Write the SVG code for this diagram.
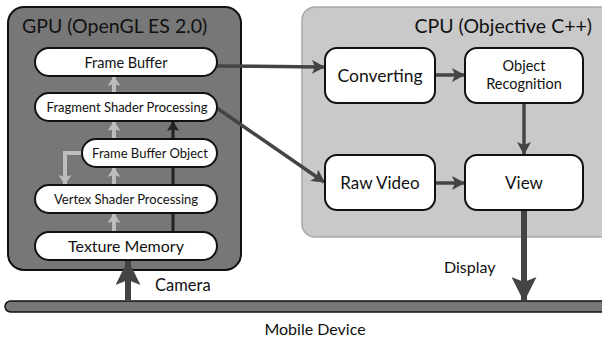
<svg xmlns="http://www.w3.org/2000/svg" width="602" height="340" viewBox="0 0 602 340">
  <defs>
    <style>
      text { font-family: "Lato", "Open Sans", "Liberation Sans", sans-serif; fill: #111; }
      .title { font-size: 19.5px; }
      .gnode rect { fill: #fff; stroke: #111; stroke-width: 2; }
      .cnode rect { fill: #fff; stroke: #111; stroke-width: 2; }
      .gl { font-size: 13px; text-anchor: middle; }
      .cl { font-size: 17px; text-anchor: middle; }
      .lbl { font-size: 16px; }
      .light { stroke: #bdbdbd; stroke-width: 4; fill: none; }
      .dark { stroke: #222; stroke-width: 3; fill: none; }
      .flow { stroke: #444; stroke-width: 3.5; fill: none; }
      .thick { stroke: #444; stroke-width: 6; fill: none; }
    </style>
    <marker id="ahLight" markerUnits="userSpaceOnUse" markerWidth="10" markerHeight="13" refX="9" refY="6.5" orient="auto" viewBox="0 0 10 13">
      <path d="M0,0 L10,6.5 L0,13 L2,6.5 Z" fill="#bdbdbd"/>
    </marker>
    <marker id="ahDark" markerUnits="userSpaceOnUse" markerWidth="10" markerHeight="12" refX="9" refY="6" orient="auto" viewBox="0 0 10 12">
      <path d="M0,0 L10,6 L0,12 L2,6 Z" fill="#222"/>
    </marker>
    <marker id="ahFlow" markerUnits="userSpaceOnUse" markerWidth="13" markerHeight="14" refX="12" refY="7" orient="auto" viewBox="0 0 13 14">
      <path d="M0,0 L13,7 L0,14 L3,7 Z" fill="#444"/>
    </marker>
    <marker id="ahBig" markerUnits="userSpaceOnUse" markerWidth="25" markerHeight="25" refX="24" refY="12.5" orient="auto" viewBox="0 0 25 25">
      <path d="M0,0 L25,12.5 L0,25 L5,12.5 Z" fill="#444"/>
    </marker>
  </defs>

  <!-- processor panels -->
  <g id="gpu">
    <rect x="8" y="7" width="233" height="263" rx="16" fill="#777" stroke="#111" stroke-width="2"/>
    <text class="title" x="22" y="33">GPU (OpenGL ES 2.0)</text>
  </g>
  <g id="cpu">
    <rect x="302" y="7" width="310" height="230" rx="13" fill="#c9c9c9" stroke="#a8a8a8" stroke-width="1.5"/>
    <text class="title" x="592" y="33" text-anchor="end">CPU (Objective C++)</text>
  </g>

  <!-- device base -->
  <g id="mobile-device">
    <rect x="5" y="301" width="620" height="11" rx="5.5" fill="#777" stroke="#111" stroke-width="1.5"/>
    <text x="315" y="335" font-size="16" text-anchor="middle">Mobile Device</text>
  </g>

  <!-- connectors -->
  <g id="connectors">
    <path class="light" d="M114,232 V214" marker-end="url(#ahLight)"/>
    <path class="light" d="M114,185 V168" marker-end="url(#ahLight)"/>
    <path class="light" d="M114,139 V122" marker-end="url(#ahLight)"/>
    <path class="light" d="M114,93 V77" marker-end="url(#ahLight)"/>
    <path class="light" d="M82,153 H65 V184" marker-end="url(#ahLight)"/>
    <path class="dark" d="M173,232 V122" marker-end="url(#ahDark)"/>
    <path class="flow" d="M217,66 L324,67" marker-end="url(#ahFlow)"/>
    <path class="flow" d="M214,106 L324,182" marker-end="url(#ahFlow)"/>
    <path class="flow" d="M435,75 H464" marker-end="url(#ahFlow)"/>
    <path class="flow" d="M435,183 H464" marker-end="url(#ahFlow)"/>
    <path class="flow" d="M524,103 V154" marker-end="url(#ahFlow)"/>
    <path class="thick" d="M524,210 V301" marker-end="url(#ahBig)"/>
    <path class="thick" d="M128,301 V261" marker-end="url(#ahBig)"/>
    <text class="lbl" x="444" y="273">Display</text>
    <text class="lbl" x="155" y="291" style="font-size:16.5px">Camera</text>
  </g>

  <!-- GPU pipeline stages -->
  <g id="frame-buffer" class="gnode">
    <rect x="35" y="48" width="182" height="28" rx="14"/>
    <text class="gl" x="126" y="67.5" style="font-size:14.5px">Frame Buffer</text>
  </g>
  <g id="fragment-shader" class="gnode">
    <rect x="35" y="93" width="182" height="28" rx="14"/>
    <text class="gl" x="127" y="111.5">Fragment Shader Processing</text>
  </g>
  <g id="frame-buffer-object" class="gnode">
    <rect x="82" y="139" width="135" height="28" rx="14"/>
    <text class="gl" x="150" y="158">Frame Buffer Object</text>
  </g>
  <g id="vertex-shader" class="gnode">
    <rect x="35" y="185" width="182" height="28" rx="14"/>
    <text class="gl" x="126" y="204">Vertex Shader Processing</text>
  </g>
  <g id="texture-memory" class="gnode">
    <rect x="35" y="232" width="182" height="28" rx="14"/>
    <text class="gl" x="126" y="251.5" style="font-size:16px">Texture Memory</text>
  </g>

  <!-- CPU stages -->
  <g id="converting" class="cnode">
    <rect x="325" y="48" width="110" height="55" rx="12"/>
    <text class="cl" x="380" y="81.5" style="font-size:17.5px">Converting</text>
  </g>
  <g id="object-recognition" class="cnode">
    <rect x="465" y="48" width="118" height="55" rx="12"/>
    <text class="cl" x="524" y="71" style="font-size:14.5px">Object</text>
    <text class="cl" x="524" y="88.5" style="font-size:14.5px">Recognition</text>
  </g>
  <g id="raw-video" class="cnode">
    <rect x="325" y="155" width="110" height="55" rx="12"/>
    <text class="cl" x="380" y="188.5">Raw Video</text>
  </g>
  <g id="view" class="cnode">
    <rect x="465" y="155" width="118" height="55" rx="12"/>
    <text class="cl" x="524" y="188.5">View</text>
  </g>
</svg>
